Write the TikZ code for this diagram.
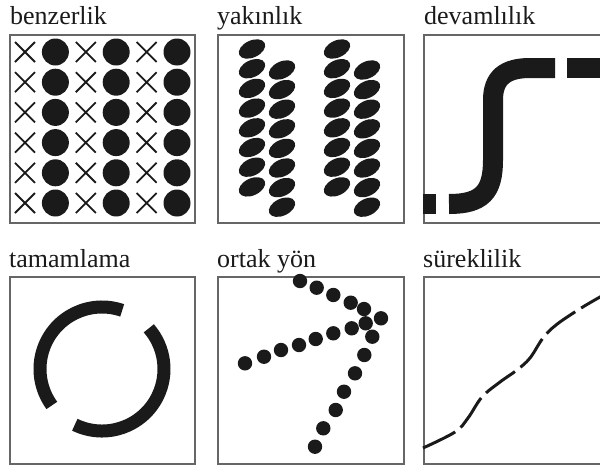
\documentclass[tikz,border=0pt]{standalone}
\usepackage{fontspec}
\setmainfont{Liberation Serif}
\definecolor{Ink}{HTML}{1A1A1A}
\definecolor{Frame}{HTML}{666666}

\begin{document}
\begin{tikzpicture}[
    x=1pt, y=-1pt,
    panel/.style={draw=Frame, line width=1.6pt, minimum width=185pt, minimum height=188pt, inner sep=0pt, anchor=north west},
    title/.style={font=\fontsize{26}{30}\selectfont, text=Ink, inner sep=0pt, anchor=base west},
    cross/.style={draw=Ink, line width=1.8pt},
    blob/.style={fill=Ink}
]
\useasboundingbox (0,0) rectangle (600,466);
\clip (0,0) rectangle (600,466);

% titles
\node[title] (tbenz) at (10,24) {benzerlik};
\node[title] (tyakin) at (217,24) {yakınlık};
\node[title] (tdevam) at (424,24) {devamlılık};
\node[title] (ttamam) at (9,267) {tamamlama};
\node[title] (tortak) at (217,267) {ortak yön};
\node[title] (tsurek) at (423,267) {süreklilik};

% frames
\node[panel] (pbenz) at (9,34) {};
\node[panel, minimum width=186pt] (pyakin) at (217,34) {};
\node[panel, minimum width=186pt] (pdevam) at (423,34) {};
\node[panel, minimum height=187pt] (ptamam) at (9,276) {};
\node[panel, minimum width=186pt, minimum height=187pt] (portak) at (217,276) {};
\node[panel, minimum width=186pt, minimum height=187pt] (psurek) at (423,276) {};

% benzerlik
\foreach \r in {0,...,5}
  \foreach \c in {0,2,4} {
    \draw[cross] ({25+30.4*\c-10},{52+30.2*\r-10}) -- ++(20,20)
                 ({25+30.4*\c-10},{52+30.2*\r+10}) -- ++(20,-20);
    \fill[blob] ({25+30.4*(\c+1)},{52+30.2*\r}) circle[radius=13.5pt];
  }

% yakinlik
\foreach \g in {0,85}
  \foreach \k in {0,...,7} {
    \fill[blob, rotate around={25:({252+\g},{49+19.7*\k})}] ({252+\g},{49+19.7*\k}) ellipse[x radius=14pt, y radius=8.5pt];
    \fill[blob, rotate around={25:({282+\g},{70+19.6*\k})}] ({282+\g},{70+19.6*\k}) ellipse[x radius=14pt, y radius=8.5pt];
  }

% devamlilik
\fill[blob] (423,194) rectangle (436,214);
\draw[Ink, line width=20pt] (449,204) .. controls (482,204) and (493,192) .. (493,160)
    -- (493,100) .. controls (493,78) and (505,68) .. (530,68) -- (555,68);
\fill[blob] (567,58) rectangle (612,78);

% tamamlama
\draw[Ink, line width=13pt] (102,369) ++(-71:62) arc[start angle=-71, end angle=-216, radius=62];
\draw[Ink, line width=13pt] (102,369) ++(-244:62) arc[start angle=-244, end angle=-401, radius=62];

% ortak yon
\foreach \x/\y in {300/281, 316.7/287.7, 333.3/295, 350.7/302.7, 364/309, 381/318.3,
    365.7/323.3, 351.7/328.3, 333.3/333.3, 315.7/339, 299/345, 281/350, 264/356.7, 245/363.3,
    372.3/336.7, 364.3/355, 355/373.3, 344/391.7, 335.7/410, 323.3/428.3, 315/446.7}
  \fill[blob] (\x,\y) circle[radius=7.2pt];

% sureklilik
\draw[Ink, line width=3pt, dash pattern=on 36pt off 7pt] plot[smooth, tension=0.6] coordinates {
    (423,448) (455,432) (468,418) (482,397) (500,382) (517,370)
    (530,358) (543,338) (556,325) (578,310) (600,297) (612,291)};
\end{tikzpicture}
\end{document}
